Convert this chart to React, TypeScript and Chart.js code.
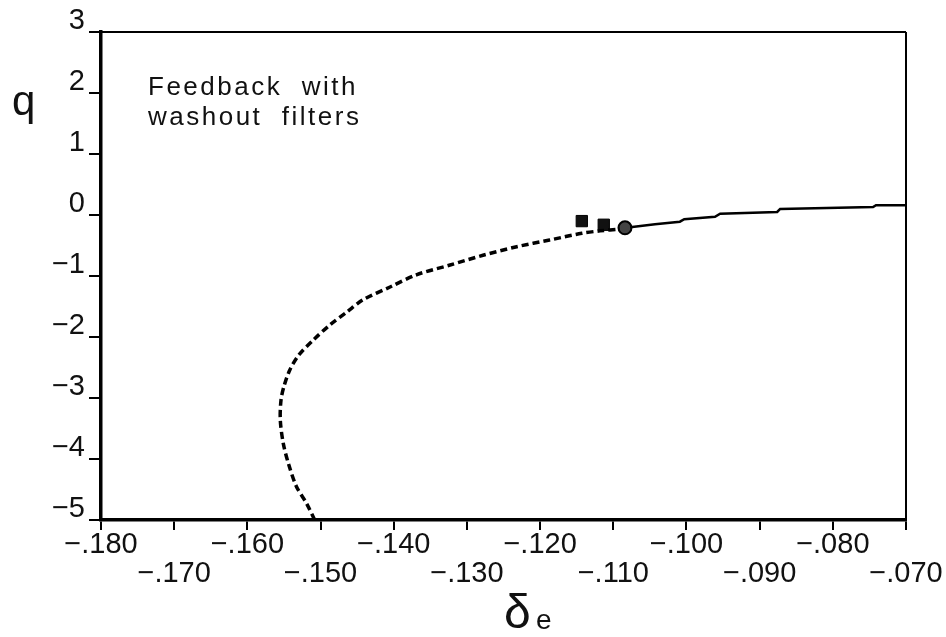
import React, { useEffect, useRef } from 'react';
import { Chart, registerables } from 'chart.js';

Chart.register(...registerables);

// x: elevator deflection δe, y: pitch rate q
const xMin = -0.18;
const xMax = -0.07;
const xStep = 0.01;
const yMin = -5;
const yMax = 3;

const dashedDelta = [
  -0.1508, -0.1519, -0.1533, -0.1544, -0.1551, -0.1555, -0.1554, -0.155, -0.1542, -0.153,
  -0.151, -0.1487, -0.1464, -0.1442, -0.1405, -0.1369, -0.1323, -0.1278, -0.1232, -0.1187,
  -0.1143, -0.1118, -0.1091,
];
const dashedQ = [
  -5.0, -4.73, -4.45, -4.07, -3.74, -3.36, -3.03, -2.81, -2.54, -2.3,
  -2.05, -1.8, -1.59, -1.39, -1.18, -0.98, -0.82, -0.66, -0.52, -0.41,
  -0.3, -0.26, -0.23,
];

const solidDelta = [-0.1077, -0.1043, -0.1009, -0.1003, -0.0961, -0.0954, -0.0876, -0.0872, -0.0745, -0.0741, -0.07];
const solidQ = [-0.2, -0.15, -0.11, -0.07, -0.03, 0.02, 0.05, 0.1, 0.13, 0.16, 0.16];

const squareDelta = [-0.1143, -0.1113];
const squareQ = [-0.1, -0.16];
const circleDelta = [-0.1084];
const circleQ = [-0.21];

const annotationLines = ['Feedback  with', 'washout  filters'];
const yAxisTitle = 'q';
const xAxisTitle = 'δ';
const xAxisSubscript = 'e';

const FONT = '"Liberation Sans", Arial, sans-serif';

const toPoints = (xs: number[], ys: number[]) => xs.map((x, i) => ({ x, y: ys[i] }));

const formatX = (v: number) => '\u2212' + Math.abs(v).toFixed(3).replace(/^0/, '');
const formatY = (v: number) => (v < 0 ? '\u2212' + Math.abs(v) : String(v));

const framePlugin = {
  id: 'frameAndText',
  afterDraw(chart: any) {
    const { ctx, chartArea } = chart;
    const { left, right, top, bottom } = chartArea;
    ctx.save();
    ctx.strokeStyle = '#000';
    ctx.lineWidth = 2;
    ctx.beginPath();
    ctx.moveTo(left, top);
    ctx.lineTo(right, top);
    ctx.moveTo(right, top);
    ctx.lineTo(right, bottom);
    ctx.stroke();

    ctx.fillStyle = '#111';
    ctx.textAlign = 'left';
    ctx.textBaseline = 'alphabetic';
    ctx.font = `26px ${FONT}`;
    try { (ctx as any).letterSpacing = '2.5px'; } catch (e) {}
    annotationLines.forEach((line, i) => {
      ctx.fillText(line, left + 47, top + 63 + i * 30);
    });
    try { (ctx as any).letterSpacing = '0px'; } catch (e) {}

    ctx.font = `42px ${FONT}`;
    ctx.fillText(yAxisTitle, 12, 115);

    ctx.font = `48px ${FONT}`;
    ctx.fillText(xAxisTitle, 504, 628);
    ctx.font = `28px ${FONT}`;
    ctx.fillText(xAxisSubscript, 536, 629);
    ctx.restore();
  },
};

export default function App() {
  const canvasRef = useRef<HTMLCanvasElement | null>(null);

  useEffect(() => {
    const canvas = canvasRef.current;
    if (!canvas) return;
    const chart = new Chart(canvas, {
      type: 'scatter',
      data: {
        datasets: [
          {
            data: toPoints(dashedDelta, dashedQ),
            showLine: true,
            borderColor: '#000',
            borderWidth: 3.5,
            borderDash: [7, 4],
            pointRadius: 0,
            tension: 0.3,
          },
          {
            data: toPoints(solidDelta, solidQ),
            showLine: true,
            borderColor: '#000',
            borderWidth: 2.5,
            pointRadius: 0,
            tension: 0,
          },
          {
            data: toPoints(squareDelta, squareQ),
            pointStyle: 'rect',
            pointRadius: 8,
            backgroundColor: '#111',
            borderColor: '#000',
            borderWidth: 1,
          },
          {
            data: toPoints(circleDelta, circleQ),
            pointStyle: 'circle',
            pointRadius: 6.5,
            backgroundColor: '#444',
            borderColor: '#000',
            borderWidth: 2,
          },
        ],
      },
      options: {
        animation: false,
        responsive: false,
        maintainAspectRatio: false,
        layout: { padding: { top: 32, right: 40, left: 0, bottom: 0 } },
        plugins: { legend: { display: false }, tooltip: { enabled: false } },
        scales: {
          x: {
            type: 'linear',
            min: xMin,
            max: xMax,
            afterFit: (scale: any) => { scale.height = 117; },
            border: { display: true, color: '#000', width: 3.5 },
            grid: { drawOnChartArea: false, drawTicks: true, tickLength: 10, color: '#000', lineWidth: 2 },
            ticks: {
              stepSize: xStep,
              autoSkip: false,
              maxRotation: 0,
              minRotation: 0,
              padding: 0,
              color: '#111',
              font: { family: FONT, size: 29, lineHeight: 1.0 },
              callback: (v: any) => {
                const val = Number(v);
                const idx = Math.round((val - xMin) / xStep);
                const s = formatX(val);
                return idx % 2 === 0 ? s : ['', s];
              },
            },
          },
          y: {
            type: 'linear',
            min: yMin,
            max: yMax,
            afterFit: (scale: any) => { scale.width = 101; },
            border: { display: true, color: '#000', width: 3.5 },
            grid: { drawOnChartArea: false, drawTicks: true, tickLength: 12, color: '#000', lineWidth: 2 },
            ticks: {
              stepSize: 1,
              padding: 4,
              labelOffset: -11,
              color: '#111',
              font: { family: FONT, size: 29 },
              callback: (v: any) => formatY(Number(v)),
            },
          },
        },
      },
      plugins: [framePlugin],
    } as any);
    return () => chart.destroy();
  }, []);

  return (
    <div style={{ position: 'fixed', left: 0, top: 0, width: 946, height: 637, background: '#fff' }}>
      <canvas ref={canvasRef} width={946} height={637} style={{ display: 'block' }} />
    </div>
  );
}
